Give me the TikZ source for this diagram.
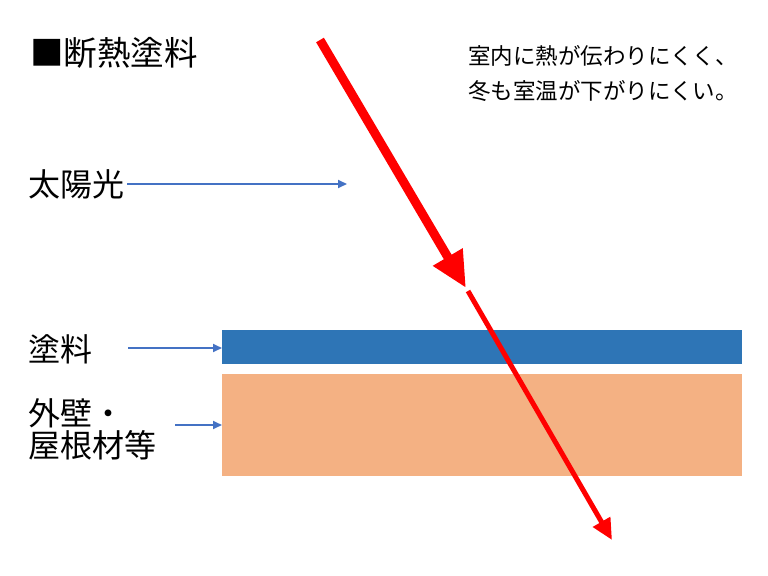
\documentclass[tikz,border=0pt]{standalone}
\usepackage{fontspec}
\setmainfont{Noto Sans CJK JP}
\usetikzlibrary{arrows.meta}
\definecolor{paintblue}{HTML}{2E75B6}
\definecolor{wallorange}{HTML}{F4B183}
\definecolor{arrowblue}{HTML}{4472C4}
\definecolor{rayred}{HTML}{FF0000}
\tikzset{
  lbl/.style={anchor=west,inner sep=0pt,font=\fontsize{32bp}{33bp}\selectfont,align=left},
  note/.style={anchor=west,inner sep=0pt,font=\fontsize{22.5bp}{35bp}\selectfont,align=left},
  layer/.style={draw=none,inner sep=0pt,anchor=north west},
  pointer/.style={draw=arrowblue,line width=2bp,-{Triangle[length=9bp,width=8bp]}},
  rayin/.style={draw=rayred,line width=9bp,-{Triangle[length=36bp,width=32bp]}},
  rayout/.style={draw=rayred,line width=5bp,-{Triangle[length=21bp,width=19bp]}}
}
\begin{document}
\begin{tikzpicture}[x=1bp,y=-1bp]
\useasboundingbox (0,0) rectangle (768,576);
% layers
\node[layer,fill=paintblue,minimum width=520bp,minimum height=34bp] (paint) at (222,330) {};
\node[layer,fill=wallorange,minimum width=520bp,minimum height=102bp] (wall) at (222,374) {};
% texts
\node[lbl,font=\fontsize{33.5bp}{34bp}\selectfont] (title) at (30,53) {■断熱塗料};
\node[lbl] (sun) at (28,184) {太陽光};
\node[lbl] (tor) at (28,349) {塗料};
\node[lbl,font=\fontsize{32bp}{32bp}\selectfont] (mat) at (28,429) {外壁・\\屋根材等};
\node[note] (msg) at (468,74) {室内に熱が伝わりにくく、\\冬も室温が下がりにくい。};
% pointer coordinates
\coordinate (sunA) at (127,184);
\coordinate (sunB) at (347,184);
\coordinate (torA) at (128,348);
\coordinate (matA) at (175,425);
% pointers
\draw[pointer] (sunA) -- (sunB);
\draw[pointer] (torA) -- (torA -| paint.west);
\draw[pointer] (matA) -- (matA -| wall.west);
% rays
\coordinate (r0) at (320,40);
\coordinate (r1) at (466,288);
\coordinate (r2) at (468,291);
\coordinate (r3) at (612,540);
\draw[rayin] (r0) -- (r1);
\draw[rayout] (r2) -- (r3);
\end{tikzpicture}
\end{document}
